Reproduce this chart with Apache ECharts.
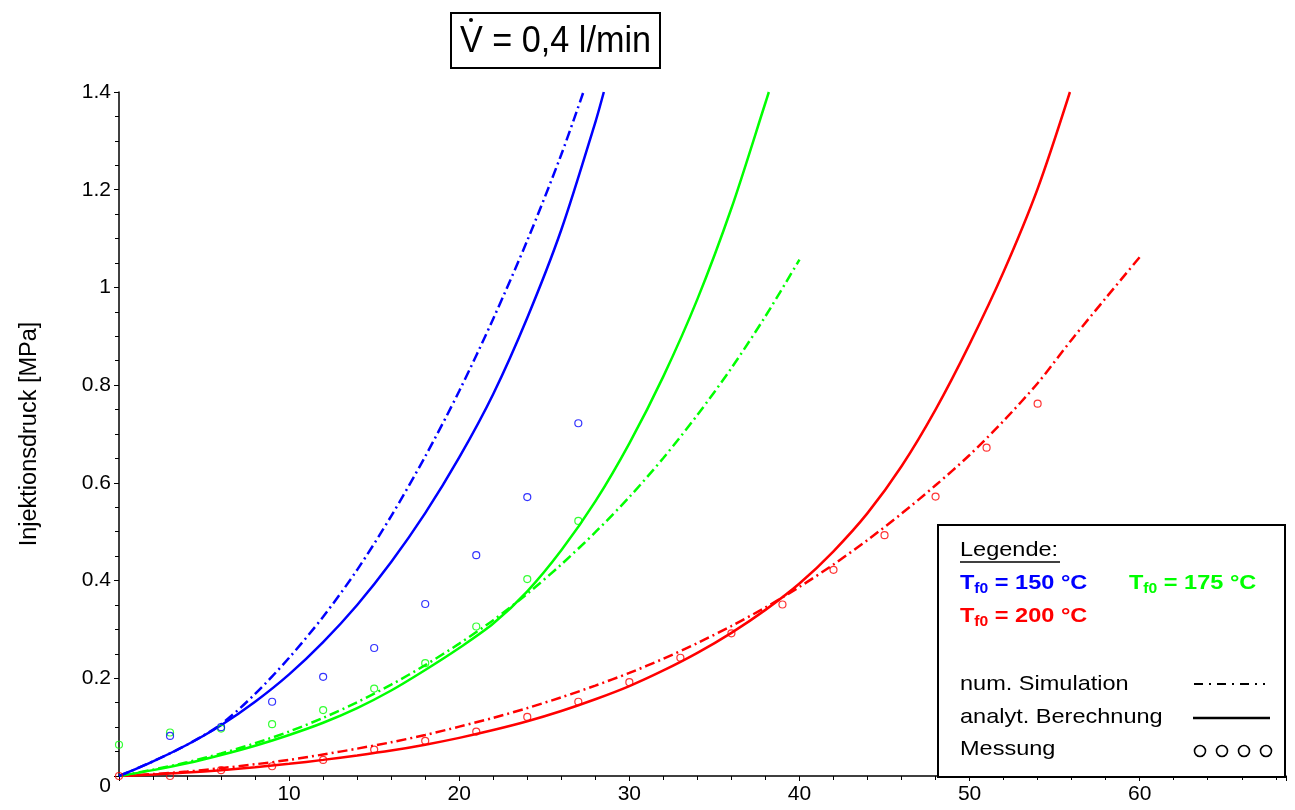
<!DOCTYPE html>
<html>
<head>
<meta charset="utf-8">
<script src="https://cdn.jsdelivr.net/npm/echarts@6/dist/echarts.min.js"></script>
<style>html,body{margin:0;padding:0;background:#fff}#c{width:1295px;height:810px}</style>
</head>
<body>
<div id="c"></div>
<script>
// ---- data (x axis value, y = Injektionsdruck [MPa]) ----
const blueSim = [[0,0],[2,0.03],[4,0.064],[6,0.106],[8,0.168],[10,0.242],[12,0.326],[14,0.422],[16,0.532],[18,0.654],[20,0.788],[22,0.936],[24,1.096],[26,1.272],[27.3,1.4]];
const blueAna = [[0,0],[2,0.03],[4,0.064],[6,0.104],[8,0.152],[10,0.208],[12,0.274],[14,0.35],[16,0.438],[18,0.538],[20,0.652],[22,0.782],[24,0.938],[26,1.118],[28,1.338],[28.5,1.4]];
const blueMeas = [[3,0.082],[6,0.1],[9,0.152],[12,0.203],[15,0.262],[18,0.352],[21,0.452],[24,0.571],[27,0.722]];

const greenSim = [[0,0],[2,0.013],[4,0.028],[6,0.046],[8,0.067],[10,0.091],[12,0.119],[14,0.151],[16,0.187],[18,0.227],[20,0.271],[22,0.319],[24,0.373],[26,0.433],[28,0.499],[30,0.571],[32,0.651],[34,0.739],[36,0.835],[38,0.941],[40,1.057]];
const greenAna = [[0,0],[2,0.012],[4,0.026],[6,0.043],[8,0.062],[10,0.084],[12,0.109],[14,0.139],[16,0.175],[18,0.217],[20,0.262],[22,0.312],[24,0.378],[26,0.462],[28,0.562],[30,0.681],[32,0.818],[34,0.976],[36,1.162],[38,1.378],[38.2,1.4]];
const greenMeas = [[0,0.064],[3,0.089],[6,0.097],[9,0.106],[12,0.135],[15,0.179],[18,0.231],[21,0.306],[24,0.403],[27,0.522]];

const redSim = [[0,0],[2,0.004],[4,0.009],[6,0.016],[8,0.024],[10,0.033],[12,0.044],[14,0.056],[16,0.069],[18,0.084],[20,0.101],[22,0.119],[24,0.139],[26,0.161],[28,0.185],[30,0.211],[32,0.24],[34,0.272],[36,0.307],[38,0.345],[40,0.387],[42,0.433],[44,0.483],[46,0.537],[48,0.595],[50,0.657],[52,0.727],[54,0.804],[56,0.893],[58,0.978],[60,1.062]];
const redAna = [[0,0],[2,0.003],[4,0.007],[6,0.012],[8,0.018],[10,0.025],[12,0.033],[14,0.042],[16,0.052],[18,0.064],[20,0.078],[22,0.094],[24,0.112],[26,0.133],[28,0.157],[30,0.184],[32,0.216],[34,0.252],[36,0.293],[38,0.34],[40,0.394],[42,0.46],[44,0.538],[46,0.634],[48,0.75],[50,0.884],[52,1.032],[54,1.202],[55.9,1.4]];
const redMeas = [[0,0],[3,0],[6,0.012],[9,0.02],[12,0.033],[15,0.054],[18,0.072],[21,0.091],[24,0.121],[27,0.152],[30,0.192],[33,0.242],[36,0.292],[39,0.351],[42,0.422],[45,0.493],[48,0.572],[51,0.672],[54,0.762]];

const titleText = 'V = 0,4 l/min';
const yAxisName = 'Injektionsdruck [MPa]';
const legendTitle = 'Legende:';
const tempLabels = ['150 °C', '175 °C', '200 °C'];
const styleLabels = ['num. Simulation', 'analyt. Berechnung', 'Messung'];

const BLUE = '#0000ff', GREEN = '#00ff00', RED = '#ff0000';
const FONT = 'Liberation Sans';
const DASHDOT = [10, 4, 2, 4];

function simSeries(data, color) {
  return {type: 'line', data, showSymbol: false, smooth: 0.3, z: 3,
    lineStyle: {color, width: 2.5, type: DASHDOT}, silent: true};
}
function anaSeries(data, color) {
  return {type: 'line', data, showSymbol: false, smooth: 0.3, z: 3,
    lineStyle: {color, width: 2.5}, silent: true};
}
function measSeries(data, color) {
  return {type: 'scatter', data, symbol: 'circle', symbolSize: 7, z: 4,
    itemStyle: {color: 'rgba(255,255,255,0)', borderColor: color, borderWidth: 1.2}, silent: true};
}

function tempRich(color) {
  return {
    b: {fontSize: 21, fontWeight: 'bold', fontFamily: FONT, fill: color, lineHeight: 26, verticalAlign: 'middle'},
    s: {fontSize: 14, fontWeight: 'bold', fontFamily: FONT, fill: color, lineHeight: 26, verticalAlign: 'bottom'}
  };
}

const chart = echarts.init(document.getElementById('c'), null, {renderer: 'canvas'});
const LX = 960;
chart.setOption({
  animation: false,
  backgroundColor: '#fff',
  grid: {left: 119, right: 9, top: 92, bottom: 34, containLabel: false},
  xAxis: {
    type: 'value', min: 0, max: 68.6, interval: 10,
    axisLine: {show: true, onZero: false, lineStyle: {color: '#000', width: 1.5}},
    axisTick: {show: true, length: 5, lineStyle: {color: '#000'}},
    minorTick: {show: true, splitNumber: 5, length: 4, lineStyle: {color: '#000'}},
    splitLine: {show: false},
    axisLabel: {color: '#000', fontSize: 21, fontFamily: FONT, margin: 8,
      formatter: v => (v > 0 && Math.abs(v % 10) < 1e-9) ? String(v) : ''}
  },
  yAxis: {
    type: 'value', min: 0, max: 1.4, interval: 0.2,
    name: yAxisName, nameLocation: 'middle', nameRotate: 90, nameGap: 77,
    nameTextStyle: {color: '#000', fontSize: 23.5, fontFamily: FONT},
    axisLine: {show: true, lineStyle: {color: '#000', width: 1.5}},
    axisTick: {show: true, length: 5, lineStyle: {color: '#000'}},
    minorTick: {show: true, splitNumber: 4, length: 4, lineStyle: {color: '#000'}},
    splitLine: {show: false},
    axisLabel: {color: '#000', fontSize: 21, fontFamily: FONT, margin: 8,
      formatter: v => v === 0 ? '{z|0}' : String(v),
      rich: {z: {fontSize: 21, fontFamily: FONT, color: '#000', padding: [20, 0, 0, 0]}}}
  },
  series: [
    anaSeries(redAna, RED), simSeries(redSim, RED), measSeries(redMeas, RED),
    anaSeries(greenAna, GREEN), simSeries(greenSim, GREEN), measSeries(greenMeas, GREEN),
    anaSeries(blueAna, BLUE), simSeries(blueSim, BLUE), measSeries(blueMeas, BLUE)
  ],
  graphic: [
    // title box
    {type: 'rect', shape: {x: 451, y: 13, width: 209, height: 55}, style: {fill: '#fff', stroke: '#000', lineWidth: 2}, z: 10},
    {type: 'text', x: 460, y: 42, scaleX: 0.95, z: 11,
      style: {text: titleText, fontSize: 36, fontFamily: FONT, fill: '#000', verticalAlign: 'middle', align: 'left'}},
    {type: 'circle', shape: {cx: 471, cy: 20, r: 2}, style: {fill: '#000'}, z: 11},
    // legend box
    {type: 'rect', shape: {x: 938, y: 525, width: 347, height: 252}, style: {fill: '#fff', stroke: '#000', lineWidth: 2}, z: 10},
    {type: 'text', x: LX, y: 550, scaleX: 1.12, z: 11,
      style: {text: legendTitle, fontSize: 21, fontFamily: FONT, fill: '#000', verticalAlign: 'middle'}},
    {type: 'line', shape: {x1: LX, y1: 562, x2: 1060, y2: 562}, style: {stroke: '#000', lineWidth: 1.5}, z: 11},
    {type: 'text', x: LX, y: 583, scaleX: 1.12, z: 11,
      style: {text: '{b|T}{s|f0}{b| = ' + tempLabels[0] + '}', rich: tempRich(BLUE), verticalAlign: 'middle'}},
    {type: 'text', x: 1129, y: 583, scaleX: 1.12, z: 11,
      style: {text: '{b|T}{s|f0}{b| = ' + tempLabels[1] + '}', rich: tempRich(GREEN), verticalAlign: 'middle'}},
    {type: 'text', x: LX, y: 616, scaleX: 1.12, z: 11,
      style: {text: '{b|T}{s|f0}{b| = ' + tempLabels[2] + '}', rich: tempRich(RED), verticalAlign: 'middle'}},
    {type: 'text', x: LX, y: 684, scaleX: 1.12, z: 11,
      style: {text: styleLabels[0], fontSize: 21, fontFamily: FONT, fill: '#000', verticalAlign: 'middle'}},
    {type: 'text', x: LX, y: 717, scaleX: 1.12, z: 11,
      style: {text: styleLabels[1], fontSize: 21, fontFamily: FONT, fill: '#000', verticalAlign: 'middle'}},
    {type: 'text', x: LX, y: 749, scaleX: 1.12, z: 11,
      style: {text: styleLabels[2], fontSize: 21, fontFamily: FONT, fill: '#000', verticalAlign: 'middle'}},
    {type: 'line', shape: {x1: 1194, y1: 684, x2: 1265, y2: 684}, style: {stroke: '#000', lineWidth: 2, lineDash: [9, 6, 2, 6]}, z: 11},
    {type: 'line', shape: {x1: 1193, y1: 718, x2: 1270, y2: 718}, style: {stroke: '#000', lineWidth: 2.5}, z: 11},
    {type: 'circle', shape: {cx: 1200, cy: 751, r: 5.5}, style: {fill: 'none', stroke: '#000', lineWidth: 1.6}, z: 11},
    {type: 'circle', shape: {cx: 1222, cy: 751, r: 5.5}, style: {fill: 'none', stroke: '#000', lineWidth: 1.6}, z: 11},
    {type: 'circle', shape: {cx: 1244, cy: 751, r: 5.5}, style: {fill: 'none', stroke: '#000', lineWidth: 1.6}, z: 11},
    {type: 'circle', shape: {cx: 1266, cy: 751, r: 5.5}, style: {fill: 'none', stroke: '#000', lineWidth: 1.6}, z: 11}
  ]
});
</script>
</body>
</html>
